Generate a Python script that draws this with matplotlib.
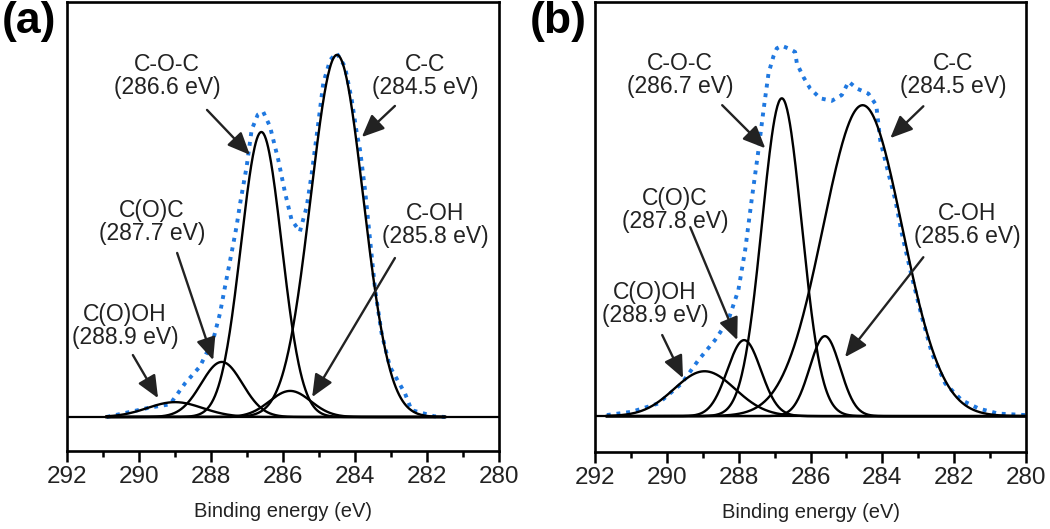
import numpy as np
import matplotlib.pyplot as plt

plt.rcParams['font.family'] = ['Liberation Sans', 'DejaVu Sans']

# ---- panel (a) ----
a_names = ['C(O)OH\n(288.9 eV)', 'C(O)C\n(287.7 eV)', 'C-O-C\n(286.6 eV)', 'C-OH\n(285.8 eV)', 'C-C\n(284.5 eV)']
a_centers = [289.0, 287.7, 286.6, 285.8, 284.5]
a_heights = [4.1, 15.2, 78.7, 7.2, 100.0]
a_fwhm = [1.8, 1.35, 1.33, 1.35, 1.72]
a_env_x = [290.9, 290.2, 289.7, 289.14, 288.72, 288.31, 287.94, 287.75, 287.61, 287.43, 287.29,
           287.19, 287.01, 286.87, 286.7, 286.55, 286.36, 286.13, 285.94, 285.76, 285.53, 285.34,
           285.2, 285.02, 284.88, 284.69, 284.51, 284.28, 284.09, 283.95, 283.86, 283.72, 283.58,
           283.44, 283.26, 283.03, 282.61, 282.43, 281.8, 281.5]
a_env_y = [0.0, 1.5, 2.6, 3.5, 9.3, 13.9, 21.3, 28.6, 36.0, 45.2, 52.6,
           59.0, 69.1, 79.3, 83.5, 84.3, 80.2, 71.0, 61.8, 54.4, 51.2, 58.1,
           67.3, 81.1, 92.2, 98.6, 100.5, 96.8, 87.6, 78.4, 73.8, 62.7, 48.9,
           35.1, 23.1, 13.9, 6.5, 1.9, 0.2, 0.0]
a_label_xy = [(290.39, 25.1), (289.64, 53.9), (289.22, 94.2), (281.78, 53.0), (282.06, 94.2)]
a_arrow_from = [(290.17, 17.1), (288.94, 45.3), (288.11, 84.8), (282.89, 43.9), (282.89, 85.9)]
a_arrow_to = [(289.47, 5.2), (287.94, 15.7), (286.92, 72.4), (285.19, 5.5), (283.81, 77.3)]

# ---- panel (b) ----
b_names = ['C(O)OH\n(288.9 eV)', 'C(O)C\n(287.8 eV)', 'C-O-C\n(286.7 eV)', 'C-OH\n(285.6 eV)', 'C-C\n(284.5 eV)']
b_centers = [288.95, 287.85, 286.8, 285.6, 284.55]
b_heights = [12.4, 21.0, 87.8, 22.1, 85.9]
b_fwhm = [2.0, 1.1, 1.3, 1.0, 2.6]
b_env_x = [291.67, 290.98, 290.24, 289.59, 289.12, 288.66, 288.29, 288.01, 287.82, 287.64,
           287.45, 287.31, 287.17, 287.03, 286.94, 286.8, 286.62, 286.43, 286.38, 286.2,
           286.01, 285.73, 285.41, 285.13, 284.94, 284.71, 284.39, 284.17, 284.06, 283.83,
           283.64, 283.46, 283.18, 282.9, 282.62, 282.25, 281.79, 281.32, 280.77, 280.02]
b_env_y = [0.3, 1.2, 3.5, 9.0, 15.5, 21.0, 26.5, 34.8, 45.9, 59.7,
           73.5, 84.5, 94.7, 99.5, 101.6, 102.3, 101.6, 100.6, 97.4, 93.7,
           90.5, 87.8, 87.1, 88.7, 92.4, 90.5, 89.1, 85.9, 76.2, 67.0,
           59.7, 50.5, 38.5, 27.4, 17.3, 9.0, 4.4, 2.1, 0.7, 0.3]
b_label_xy = [(290.33, 30.9), (289.77, 56.9), (289.63, 94.2), (281.64, 52.8), (282.03, 94.2)]
b_arrow_from = [(290.13, 22.4), (289.35, 52.2), (288.46, 85.9), (282.86, 43.9), (282.86, 85.6)]
b_arrow_to = [(289.55, 10.5), (288.04, 21.0), (287.26, 74.0), (285.04, 16.3), (283.78, 76.8)]

blue = '#1f78e0'


def draw_panel(ax, names, centers, heights, fwhm, env_x, env_y, label_xy, arrow_from, arrow_to, ylim):
    ax.plot(env_x, env_y, color=blue, lw=2.8, ls=(0, (1, 1.5)), zorder=1)
    xs = np.linspace(env_x[0], env_x[-1], 600)
    for c, h, w in zip(centers, heights, fwhm):
        sig = w / 2.3548
        ax.plot(xs, h * np.exp(-0.5 * ((xs - c) / sig) ** 2), color='black', lw=1.7, zorder=2)
    ax.axhline(0, color='black', lw=1.6, zorder=3)
    for name, (tx, ty), p0, p1 in zip(names, label_xy, arrow_from, arrow_to):
        ax.text(tx, ty, name, ha='center', va='center', fontsize=16.5, linespacing=1.0, color='#222222')
        ax.annotate('', xy=p1, xytext=p0,
                    arrowprops=dict(arrowstyle='-|>,head_length=0.8,head_width=0.35',
                                    mutation_scale=17, color='#222222', lw=1.7,
                                    shrinkA=0, shrinkB=0))
    ax.set_xlim(292, 280)
    ax.set_ylim(*ylim)
    ax.set_xticks(np.arange(292, 279, -2))
    ax.set_xticks(np.arange(291, 280, -2), minor=True)
    ax.set_yticks([])
    ax.tick_params(axis='x', which='major', length=8, width=1.8, labelsize=17.5, pad=3,
                   colors='black', labelcolor='#222222')
    ax.tick_params(axis='x', which='minor', length=4.5, width=1.8)
    ax.set_xlabel('Binding energy (eV)', fontsize=14.5, labelpad=10, color='#222222')
    for s in ax.spines.values():
        s.set_linewidth(1.9)


fig = plt.figure(figsize=(10.5, 5.29), dpi=100)
ax1 = fig.add_axes([0.0638, 0.1474, 0.4114, 0.8488])
ax2 = fig.add_axes([0.5667, 0.1456, 0.4105, 0.8506])
draw_panel(ax1, a_names, a_centers, a_heights, a_fwhm, a_env_x, a_env_y,
           a_label_xy, a_arrow_from, a_arrow_to, (-9.4, 114.6))
draw_panel(ax2, b_names, b_centers, b_heights, b_fwhm, b_env_x, b_env_y,
           b_label_xy, b_arrow_from, b_arrow_to, (-9.9, 114.4))

fig.text(0.002, 0.998, '(a)', fontsize=32, fontweight='bold', ha='left', va='top')
fig.text(0.505, 0.998, '(b)', fontsize=32, fontweight='bold', ha='left', va='top')

fig.savefig('out.png', dpi=100)
